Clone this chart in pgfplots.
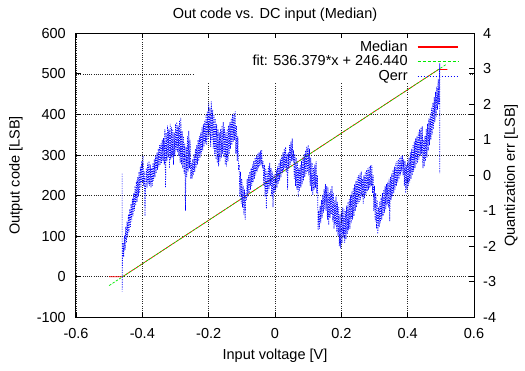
\documentclass[border=0pt]{standalone}
\usepackage{fontspec}
\setmainfont{Liberation Sans}
\usepackage{pgfplots}
\usepackage{pgfplotstable}
\pgfplotsset{compat=1.18}

\definecolor{gpred}{RGB}{255,0,0}
\definecolor{gpgreen}{RGB}{0,235,0}
\definecolor{gpblue}{RGB}{0,0,255}

% quantization error of the median transfer curve [LSB]
\pgfplotstableread{
x y
-0.461 0.05
-0.461 -3.28
-0.460 -2.5
-0.458 -1.9
-0.456 -2.3
-0.454 -1.7
-0.452 -2.1
-0.450 -1.45
-0.448 -1.9
-0.446 -1.3
-0.444 -1.75
-0.442 -1.1
-0.440 -1.6
-0.438 -0.95
-0.436 -1.45
-0.434 -0.8
-0.432 -1.3
-0.430 -0.65
-0.428 -1.15
-0.426 -0.5
-0.424 -1.0
-0.422 -0.3
-0.420 -0.85
-0.418 -0.15
-0.416 -0.75
-0.414 -0.05
-0.412 -0.6
-0.410 0.1
-0.408 -0.5
-0.406 0.25
-0.404 -0.35
-0.402 0.4
-0.400 -0.2
-0.398 0.55
-0.396 -0.3
-0.394 0.1
-0.392 -1.15
-0.390 -0.2
-0.388 0.2
-0.386 -0.35
-0.384 0.35
-0.382 -0.25
-0.380 0.4
-0.378 -0.3
-0.376 0.3
-0.374 -0.35
-0.372 0.2
-0.370 -0.3
-0.368 0.35
-0.366 -0.15
-0.364 0.45
-0.362 -0.05
-0.360 0.55
-0.358 0.05
-0.356 0.65
-0.354 0.15
-0.352 0.75
-0.350 0.25
-0.348 0.85
-0.346 0.3
-0.344 0.9
-0.342 0.35
-0.340 1.0
-0.338 0.4
-0.336 1.05
-0.334 0.3
-0.332 1.3
-0.330 -0.35
-0.328 1.2
-0.326 0.4
-0.324 1.4
-0.322 0.5
-0.320 1.3
-0.318 0.2
-0.316 1.45
-0.314 0.45
-0.312 1.35
-0.310 0.5
-0.308 1.3
-0.306 0.3
-0.304 1.2
-0.302 0.55
-0.300 1.45
-0.298 0.7
-0.296 1.5
-0.294 0.65
-0.292 1.4
-0.290 0.55
-0.288 1.55
-0.286 0.35
-0.284 1.62
-0.282 0.3
-0.280 1.25
-0.278 0.2
-0.276 1.1
-0.274 0.05
-0.272 0.9
-0.270 -1.0
-0.268 0.8
-0.266 -0.05
-0.264 1.1
-0.262 0.1
-0.260 1.25
-0.258 0.2
-0.256 1.0
-0.254 -0.1
-0.252 0.35
-0.250 -0.1
-0.248 0.45
-0.246 0.0
-0.244 0.6
-0.242 0.1
-0.240 0.75
-0.238 0.2
-0.236 0.85
-0.234 0.3
-0.232 1.0
-0.230 0.4
-0.228 1.1
-0.226 0.5
-0.224 1.2
-0.222 0.6
-0.220 1.35
-0.218 0.7
-0.216 1.45
-0.214 0.8
-0.212 1.55
-0.210 0.9
-0.208 1.7
-0.206 0.85
-0.204 1.8
-0.202 1.0
-0.200 2.05
-0.198 1.1
-0.196 1.9
-0.194 0.8
-0.192 2.08
-0.190 1.0
-0.188 1.85
-0.186 0.75
-0.184 1.7
-0.182 0.55
-0.180 1.6
-0.178 0.45
-0.176 1.45
-0.174 0.35
-0.172 1.3
-0.170 0.25
-0.168 1.2
-0.166 0.4
-0.164 1.3
-0.162 0.5
-0.160 1.4
-0.158 0.6
-0.156 1.5
-0.154 0.5
-0.152 1.35
-0.150 0.3
-0.148 1.2
-0.146 0.25
-0.144 1.3
-0.142 0.4
-0.140 1.4
-0.138 0.6
-0.136 1.5
-0.134 0.75
-0.132 1.6
-0.130 0.85
-0.128 1.7
-0.126 0.95
-0.124 1.75
-0.122 1.0
-0.120 1.8
-0.118 0.6
-0.116 1.4
-0.114 0.4
-0.112 1.1
-0.110 0.2
-0.108 0.25
-0.106 -0.6
-0.104 0.1
-0.102 -0.8
-0.100 -0.1
-0.098 -0.9
-0.096 -0.3
-0.094 -1.1
-0.092 -0.4
-0.090 -1.25
-0.088 -0.5
-0.086 -0.7
-0.084 -0.1
-0.082 -0.6
-0.080 0.0
-0.078 -0.5
-0.076 0.1
-0.074 -0.4
-0.072 0.2
-0.070 -0.3
-0.068 0.3
-0.066 -0.2
-0.064 0.4
-0.062 -0.1
-0.060 0.5
-0.058 0.0
-0.056 0.55
-0.054 0.1
-0.052 0.6
-0.050 0.2
-0.048 0.65
-0.046 0.25
-0.044 0.7
-0.042 0.3
-0.040 0.72
-0.038 0.2
-0.036 0.4
-0.034 -0.3
-0.032 0.3
-0.030 -0.6
-0.028 0.2
-0.026 -0.95
-0.024 0.1
-0.022 -0.5
-0.020 0.25
-0.018 -0.4
-0.016 0.35
-0.014 -0.3
-0.012 0.2
-0.010 -0.6
-0.008 0.1
-0.006 -0.9
-0.004 0.0
-0.002 -0.5
0.000 0.05
0.002 -0.45
0.004 0.15
0.006 -0.35
0.008 0.25
0.010 -0.25
0.012 0.35
0.014 -0.15
0.016 0.45
0.018 -0.05
0.020 0.55
0.022 0.05
0.024 0.65
0.026 0.15
0.028 0.75
0.030 0.2
0.032 0.8
0.034 0.1
0.036 0.6
0.038 -0.4
0.040 0.65
0.042 0.2
0.044 0.85
0.046 0.3
0.048 0.95
0.050 0.4
0.052 1.04
0.054 0.4
0.056 0.7
0.058 -0.1
0.060 0.6
0.062 -0.3
0.064 0.5
0.066 -0.4
0.068 0.35
0.070 -0.6
0.072 0.2
0.074 -0.45
0.076 0.3
0.078 -0.35
0.080 0.4
0.082 -0.25
0.084 0.5
0.086 -0.15
0.088 0.6
0.090 -0.05
0.092 0.7
0.094 0.05
0.096 0.8
0.098 0.1
0.100 0.85
0.102 0.0
0.104 0.75
0.106 -0.3
0.108 0.5
0.110 -0.45
0.112 0.35
0.114 -0.55
0.116 0.2
0.118 -0.4
0.120 0.3
0.122 -0.35
0.124 0.4
0.126 -0.5
0.128 0.0
0.130 -1.55
0.132 -1.0
0.134 -1.5
0.136 -0.85
0.138 -1.35
0.140 -0.7
0.142 -1.2
0.144 -0.55
0.146 -1.05
0.148 -0.4
0.150 -0.95
0.152 -0.25
0.154 -1.0
0.156 -0.3
0.158 -1.25
0.160 -0.35
0.162 -1.4
0.164 -0.5
0.166 -1.2
0.168 -0.4
0.170 -1.1
0.172 -0.3
0.174 -1.3
0.176 -0.5
0.178 -1.5
0.180 -0.7
0.182 -1.4
0.184 -0.6
0.186 -1.6
0.188 -0.75
0.190 -1.7
0.192 -0.9
0.194 -2.0
0.196 -1.1
0.198 -2.06
0.200 -1.0
0.202 -1.9
0.204 -0.9
0.206 -1.75
0.208 -0.95
0.210 -1.9
0.212 -1.0
0.214 -1.8
0.216 -0.85
0.218 -1.65
0.220 -0.75
0.222 -1.55
0.224 -0.65
0.226 -1.5
0.228 -0.55
0.230 -1.35
0.232 -0.45
0.234 -1.25
0.236 -0.35
0.238 -1.15
0.240 -0.25
0.242 -1.0
0.244 -0.15
0.246 -0.9
0.248 -0.05
0.250 -0.8
0.252 0.0
0.254 -0.75
0.256 0.05
0.258 -0.7
0.260 0.1
0.262 -0.6
0.264 -0.1
0.266 -0.8
0.268 0.0
0.270 -0.65
0.272 0.1
0.274 -0.55
0.276 0.15
0.278 -0.45
0.280 0.2
0.282 -0.4
0.284 0.25
0.286 -0.35
0.288 0.28
0.290 -0.3
0.292 0.29
0.294 -0.5
0.296 0.0
0.298 -1.0
0.300 -0.3
0.302 -1.3
0.304 -0.5
0.306 -1.5
0.308 -0.7
0.310 -1.65
0.312 -0.9
0.314 -1.45
0.316 -0.75
0.318 -1.35
0.320 -0.6
0.322 -1.25
0.324 -0.5
0.326 -1.15
0.328 -0.4
0.330 -1.05
0.332 -0.3
0.334 -0.95
0.336 -0.25
0.338 -0.85
0.340 -0.2
0.342 -0.9
0.344 -0.1
0.346 -1.3
0.348 -0.05
0.350 -0.7
0.352 0.05
0.354 -0.6
0.356 0.15
0.358 -0.5
0.360 0.25
0.362 -0.4
0.364 0.35
0.366 -0.3
0.368 0.4
0.370 -0.2
0.372 0.45
0.374 -0.1
0.376 0.5
0.378 0.0
0.380 0.55
0.382 0.1
0.384 0.57
0.386 0.0
0.388 0.45
0.390 -0.3
0.392 0.4
0.394 -0.5
0.396 0.3
0.398 -0.4
0.400 0.4
0.402 -0.3
0.404 0.5
0.406 -0.2
0.408 0.65
0.410 -0.1
0.412 0.75
0.414 0.0
0.416 0.85
0.418 0.1
0.420 0.95
0.422 0.2
0.424 1.05
0.426 0.3
0.428 1.1
0.430 0.35
0.432 1.2
0.434 0.45
0.436 1.3
0.438 0.55
0.440 1.35
0.442 0.6
0.444 1.38
0.446 0.2
0.448 1.0
0.450 0.25
0.452 1.1
0.454 0.4
0.456 1.3
0.458 0.5
0.460 1.45
0.462 0.7
0.464 1.6
0.466 0.85
0.468 1.75
0.470 1.0
0.472 1.9
0.474 1.15
0.476 2.05
0.478 1.3
0.480 2.2
0.482 1.5
0.484 2.35
0.486 1.65
0.488 2.5
0.490 1.85
0.492 2.7
0.494 2.0
0.496 2.95
0.497 3.15
0.497 0.06
}\qerr

\begin{document}
\fontsize{14.5}{17}\selectfont
\begin{tikzpicture}
\path[use as bounding box] (-76pt,-52.7pt) rectangle (449pt,317.3pt);
\pgfplotsset{
  every axis/.append style={
    at={(0pt,0pt)}, anchor=south west,
    scale only axis, width=398pt, height=284pt,
    xmin=-0.6, xmax=0.6,
    font=\fontsize{14.5}{17}\selectfont,
    major tick length=5pt,
    tick style={black, line width=0.8pt},
    axis line style={black, line width=1pt},
  },
}
% right-hand scale: quantization error, -4..4 LSB
\begin{axis}[
  ymin=-4, ymax=4,
  axis y line*=right, axis x line=none,
  ytick={-4,-3,-2,-1,0,1,2,3,4},
  yticklabels={-4,-3,-2,-1,0,1,2,3,4},
  yticklabel style={anchor=west, inner sep=0pt, xshift=9pt},
  ylabel={Quantization err [LSB]},
  ylabel style={at={(1,0.5)}, anchor=center, yshift=-37pt, inner sep=0pt},
]
\end{axis}
% main scale: output code; Qerr is mapped from [-4,4] onto [-100,600]
\begin{axis}[
  ymin=-100, ymax=600,
  xtick={-0.6,-0.4,-0.2,0,0.2,0.4,0.6},
  xticklabels={-0.6,-0.4,-0.2,0,0.2,0.4,0.6},
  ytick={-100,0,100,200,300,400,500,600},
  yticklabels={-100,0,100,200,300,400,500,600},
  xticklabel style={anchor=base, inner sep=0pt, yshift=-21pt},
  yticklabel style={anchor=east, inner sep=0pt, xshift=-10pt},
  grid=major,
  grid style={black!85, line width=0.5pt, dash pattern=on 0.8pt off 1.4pt},
  title={Out code vs. DC input (Median)},
  title style={at={(0.5,1)}, anchor=base, yshift=9pt, inner sep=0pt},
  xlabel={Input voltage [V]},
  xlabel style={at={(0.5,0)}, anchor=base, yshift=-42.5pt, inner sep=0pt},
  ylabel={Output code [LSB]},
  ylabel style={at={(0,0.5)}, anchor=center, yshift=60pt, inner sep=0pt},
  legend plot pos=right,
  legend cell align=right,
  legend style={draw=none, fill=none, at={(1,1)}, anchor=north east,
    xshift=-15pt, yshift=-6.5pt, inner sep=0pt, row sep=0.8pt, column sep=9pt,
    nodes={inner sep=0.5pt, text height=10.5pt, text depth=2.5pt}},
]
% opaque key area
\fill[white] (axis cs:-0.241,480) rectangle (axis cs:0.585,587);
\addplot[draw=gpred, line width=0.7pt,
  legend image code/.code={\draw[draw=gpred, line width=1.1pt] (0pt,0pt) -- (40.5pt,0pt);}]
  coordinates {(-0.500,0) (-0.4595,0) (0.4932,511) (0.520,511)};
\addlegendentry{Median}
\addplot[draw=gpgreen, line width=0.7pt, dash pattern=on 2.5pt off 1.5pt,
  legend image code/.code={\draw[draw=gpgreen, line width=1.2pt, dash pattern=on 3.5pt off 1.5pt] (0pt,0pt) -- (40.5pt,0pt);}]
  coordinates {(-0.500,-21.75) (0.515,522.68)};
\addlegendentry{fit: 536.379*x + 246.440}
\addplot[draw=gpblue, line width=0.7pt, dash pattern=on 1.2pt off 1.2pt,
  legend image code/.code={\draw[draw=gpblue, line width=1.1pt, dash pattern=on 1.5pt off 1.5pt] (0pt,0pt) -- (40.5pt,0pt);}]
  table[x=x, y expr={87.5*\thisrow{y}+250}] {\qerr};
\addlegendentry{Qerr}
\end{axis}
\end{tikzpicture}
\end{document}
